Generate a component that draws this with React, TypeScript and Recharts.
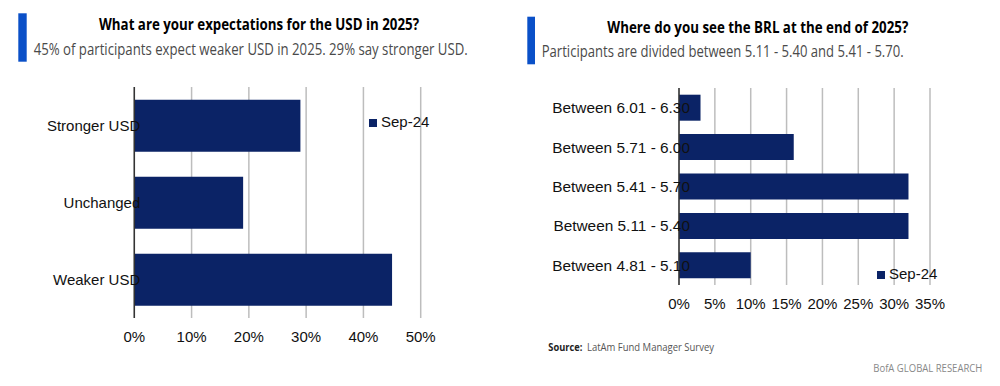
import React from 'react';
import { BarChart, Bar, XAxis, YAxis, CartesianGrid, Legend } from 'recharts';

const usdCategories = ['Stronger USD', 'Unchanged', 'Weaker USD'];
const usdValues = [29, 19, 45];
const usdTicks = [0, 10, 20, 30, 40, 50];

const brlCategories = [
  'Between 6.01 - 6.30',
  'Between 5.71 - 6.00',
  'Between 5.41 - 5.70',
  'Between 5.11 - 5.40',
  'Between 4.81 - 5.10',
];
const brlValues = [3, 16, 32, 32, 10];
const brlTicks = [0, 5, 10, 15, 20, 25, 30, 35];

const seriesName = 'Sep-24';

const usdData = usdCategories.map((name, i) => ({ name, value: usdValues[i] }));
const brlData = brlCategories.map((name, i) => ({ name, value: brlValues[i] }));

const NAVY = '#0b2366';
const ACCENT = '#0a50c8';
const FONT = '"Liberation Sans", Arial, sans-serif';
const TITLE_FONT = '"Open Sans", "Noto Sans", sans-serif';

const CatTick = (dxShift: number, size: number) => (props: any) => {
  const { x, y, payload } = props;
  return (
    <text x={x + dxShift} y={y} textAnchor="end" dominantBaseline="central" fontFamily={FONT} fontSize={size} fill="#111">
      {payload.value}
    </text>
  );
};

const legendFormatter = (value: string) => <span style={{ color: '#111' }}>{value}</span>;

export default function App() {
  return (
    <div style={{ position: 'absolute', left: 0, top: 0, width: 1000, height: 386, background: '#fff', overflow: 'hidden' }}>
      <svg width={1000} height={386} style={{ position: 'absolute', left: 0, top: 0 }}>
        <rect x={18.3} y={13.3} width={8.4} height={48.4} fill={ACCENT} />
        <text x={99} y={29.5} fontFamily={TITLE_FONT} fontWeight={700} fontSize={15.5} fill="#000" textLength={320} lengthAdjust="spacingAndGlyphs">
          What are your expectations for the USD in 2025?
        </text>
        <text x={33.7} y={55} fontFamily={TITLE_FONT} fontSize={16.5} fill="#4a4a4a" textLength={434} lengthAdjust="spacingAndGlyphs">
          45% of participants expect weaker USD in 2025. 29% say stronger USD.
        </text>

        <rect x={527.3} y={16.7} width={7.7} height={47.6} fill={ACCENT} />
        <text x={607.3} y={33.3} fontFamily={TITLE_FONT} fontWeight={700} fontSize={15.5} fill="#000" textLength={301} lengthAdjust="spacingAndGlyphs">
          Where do you see the BRL at the end of 2025?
        </text>
        <text x={541.7} y={57.3} fontFamily={TITLE_FONT} fontSize={16.5} fill="#4a4a4a" textLength={362} lengthAdjust="spacingAndGlyphs">
          Participants are divided between 5.11 - 5.40 and 5.41 - 5.70.
        </text>

        <text x={548.3} y={350.7} fontFamily={TITLE_FONT} fontWeight={700} fontSize={10.5} fill="#222" textLength={34} lengthAdjust="spacingAndGlyphs">
          Source:
        </text>
        <text x={587} y={350.7} fontFamily={TITLE_FONT} fontSize={10.5} fill="#555" textLength={127} lengthAdjust="spacingAndGlyphs">
          LatAm Fund Manager Survey
        </text>
        <text x={873.3} y={372.3} fontFamily={TITLE_FONT} fontSize={10} fill="#888" textLength={109} lengthAdjust="spacingAndGlyphs">
          BofA GLOBAL RESEARCH
        </text>
      </svg>

      <div style={{ position: 'absolute', left: 0, top: 0 }}>
        <BarChart
          width={500}
          height={386}
          data={usdData}
          layout="vertical"
          margin={{ top: 87, right: 79.3, bottom: 38, left: 0 }}
          barCategoryGap="16.5%"
        >
          <CartesianGrid horizontal={false} vertical={true} stroke="#bdbdbd" strokeWidth={1.5} />
          <XAxis
            type="number"
            domain={[0, 50]}
            ticks={usdTicks}
            tickFormatter={(v: number) => `${v}%`}
            axisLine={false}
            tickLine={false}
            tickMargin={7}
            height={30}
            tick={{ fontFamily: FONT, fontSize: 15, fill: '#111' }}
            interval={0}
          />
          <YAxis
            type="category"
            dataKey="name"
            width={134.3}
            axisLine={{ stroke: '#333', strokeWidth: 1.5 }}
            tickLine={false}
            tickSize={0}
            tickMargin={0}
            tick={CatTick(6, 15)}
            interval={0}
          />
          <Legend
            layout="horizontal"
            verticalAlign="middle"
            align="center"
            iconType="square"
            iconSize={8}
            formatter={legendFormatter}
            wrapperStyle={{ position: 'absolute', left: 369, top: 112, width: 'auto', fontFamily: FONT, fontSize: 15, lineHeight: '20px' }}
          />
          <Bar dataKey="value" name={seriesName} fill={NAVY} isAnimationActive={false} />
        </BarChart>
      </div>

      <div style={{ position: 'absolute', left: 500, top: 0 }}>
        <BarChart
          width={500}
          height={386}
          data={brlData}
          layout="vertical"
          margin={{ top: 88, right: 70, bottom: 71, left: 0 }}
          barCategoryGap="17%"
        >
          <CartesianGrid horizontal={false} vertical={true} stroke="#bdbdbd" strokeWidth={1.5} />
          <XAxis
            type="number"
            domain={[0, 35]}
            ticks={brlTicks}
            tickFormatter={(v: number) => `${v}%`}
            axisLine={false}
            tickLine={false}
            tickMargin={7}
            height={30}
            tick={{ fontFamily: FONT, fontSize: 15, fill: '#111' }}
            interval={0}
          />
          <YAxis
            type="category"
            dataKey="name"
            width={179}
            axisLine={{ stroke: '#333', strokeWidth: 1.5 }}
            tickLine={false}
            tickSize={0}
            tickMargin={0}
            tick={CatTick(11, 15.4)}
            interval={0}
          />
          <Legend
            layout="horizontal"
            verticalAlign="middle"
            align="center"
            iconType="square"
            iconSize={8}
            formatter={legendFormatter}
            wrapperStyle={{ position: 'absolute', left: 377, top: 264, width: 'auto', fontFamily: FONT, fontSize: 15, lineHeight: '20px' }}
          />
          <Bar dataKey="value" name={seriesName} fill={NAVY} isAnimationActive={false} />
        </BarChart>
      </div>
    </div>
  );
}
